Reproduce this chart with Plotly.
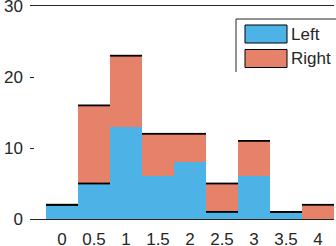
import plotly.graph_objects as go

bins = [0, 0.5, 1, 1.5, 2, 2.5, 3, 3.5, 4]
left = [2, 5, 13, 6, 8, 1, 6, 1, 0]
right = [0, 11, 10, 6, 4, 4, 5, 0, 2]
left_edge_visible = [True, True, False, False, False, True, False, True, False]
tick_vals = [0, 0.5, 1, 1.5, 2, 2.5, 3, 3.5, 4]
tick_text = ["0", "0.5", "1", "1.5", "2", "2.5", "3", "3.5", "4"]
y_ticks = [0, 10, 20, 30]
series_names = ["Left", "Right"]

BLUE = "#4DB2E6"
SALMON = "#E6826A"
TXT = "#262626"
BW = 0.5

fig = go.Figure()
fig.add_trace(go.Bar(x=bins, y=left, width=BW, marker=dict(color=BLUE, line=dict(width=0)),
                     name=series_names[0], showlegend=False))
fig.add_trace(go.Bar(x=bins, y=right, width=BW, marker=dict(color=SALMON, line=dict(width=0)),
                     name=series_names[1], showlegend=False))

# top edge lines
ex, ey = [], []
for b, l, r, vis in zip(bins, left, right, left_edge_visible):
    tot = l + r
    ex += [b - BW / 2, b + BW / 2, None]
    ey += [tot, tot, None]
    if vis and l > 0:
        ex += [b - BW / 2, b + BW / 2, None]
        ey += [l, l, None]
fig.add_trace(go.Scatter(x=ex, y=ey, mode="lines", line=dict(color="black", width=1.8),
                         hoverinfo="skip", showlegend=False, cliponaxis=False))

# manual legend
W, H = 336, 246
ml, mr, mt, mb = 30, 2, 6, 27
pw, ph = W - ml - mr, H - mt - mb
def px(x):
    return (x - ml) / pw
def py(y):
    return (H - mb - y) / ph

shapes = [
    dict(type="line", xref="paper", yref="paper", x0=px(236), x1=px(236), y0=py(19), y1=py(72),
         line=dict(color=TXT, width=1)),
    dict(type="line", xref="paper", yref="paper", x0=px(236), x1=px(337), y0=py(19), y1=py(19),
         line=dict(color=TXT, width=1)),
    dict(type="rect", xref="paper", yref="paper", x0=px(245), x1=px(287), y0=py(43), y1=py(25),
         fillcolor=BLUE, line=dict(color="black", width=1)),
    dict(type="rect", xref="paper", yref="paper", x0=px(245), x1=px(287), y0=py(67.5), y1=py(49.5),
         fillcolor=SALMON, line=dict(color="black", width=1)),
]
annotations = [
    dict(xref="paper", yref="paper", x=px(289), y=py(34.5), text=series_names[0], showarrow=False,
         xanchor="left", yanchor="middle", font=dict(size=17, color=TXT, family="Liberation Sans, Arial")),
    dict(xref="paper", yref="paper", x=px(289), y=py(58.5), text=series_names[1], showarrow=False,
         xanchor="left", yanchor="middle", font=dict(size=17, color=TXT, family="Liberation Sans, Arial")),
]

fig.update_layout(
    width=W, height=H,
    margin=dict(l=ml, r=mr, t=mt, b=mb, pad=0, autoexpand=False),
    barmode="stack", bargap=0,
    plot_bgcolor="white", paper_bgcolor="white",
    font=dict(family="Liberation Sans, Arial", size=17, color=TXT),
    shapes=shapes, annotations=annotations,
    xaxis=dict(range=[-0.5, 4.25], tickvals=tick_vals, ticktext=tick_text, ticks="",
               showgrid=False, zeroline=False, showline=True, mirror=True, automargin=False,
               linecolor=TXT, linewidth=1, ticklabelstandoff=5, ticklabeloverflow="allow"),
    yaxis=dict(range=[0, 30], tickvals=y_ticks, ticks="inside", ticklen=4, tickcolor=TXT,
               showgrid=False, zeroline=False, showline=False, automargin=False,
               ticklabelstandoff=6, ticklabeloverflow="allow"),
)

fig.write_html("out.html", config={"displayModeBar": False},
               post_script="document.body.style.margin='0';document.body.style.overflow='hidden';")
